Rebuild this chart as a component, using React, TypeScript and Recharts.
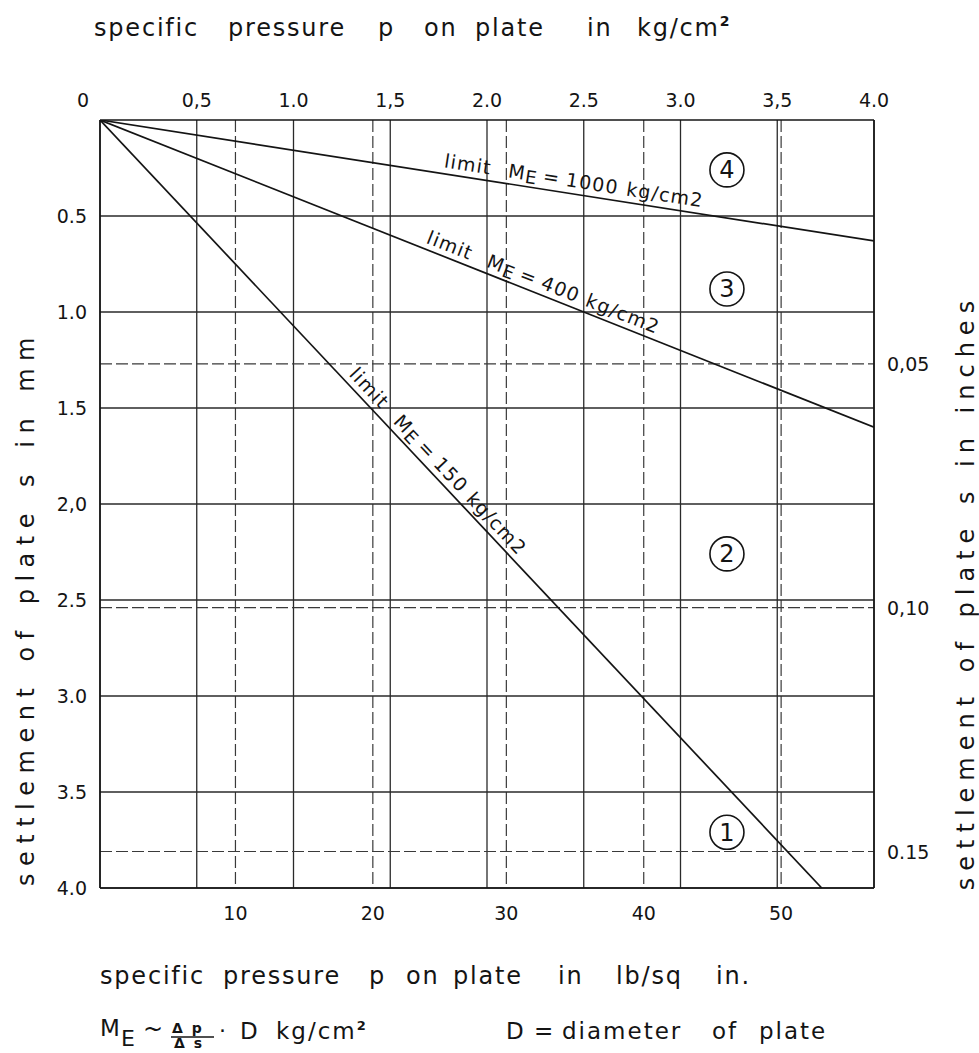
import React from 'react'
import { LineChart, Line, XAxis, YAxis, ReferenceLine, ReferenceDot } from 'recharts'

// pressure axis (kg/cm2) on top, lb/sq in marks below
const kgTicks = [0, 0.5, 1, 1.5, 2, 2.5, 3, 3.5, 4]
const kgLabels = ['0', '0,5', '1.0', '1,5', '2.0', '2.5', '3.0', '3,5', '4.0']
const psiTicks = [0.7, 1.41, 2.1, 2.81, 3.52]
const psiLabels = ['10', '20', '30', '40', '50']

// settlement axis (mm) on the left, inches on the right
const mmTicks = [0.5, 1, 1.5, 2, 2.5, 3, 3.5, 4]
const mmLabels = ['0.5', '1.0', '1.5', '2,0', '2.5', '3.0', '3.5', '4.0']
const inchTicks = [1.27, 2.54, 3.81]
const inchLabels = ['0,05', '0,10', '0.15']

// limit lines
const limit1000 = [{ p: 0, s: 0 }, { p: 4, s: 0.63 }]
const limit400 = [{ p: 0, s: 0 }, { p: 4, s: 1.6 }]
const limit150 = [{ p: 0, s: 0 }, { p: 3.73, s: 4 }]

// circled zone numbers
const zoneNames = ['4', '3', '2', '1']
const zoneS = [0.26, 0.88, 2.26, 3.71]
const zoneP = 3.24

const lineNotes = [
  { me: '1000', p: 1.77, s: 0.277, angle: 8.8 },
  { me: '400', p: 1.67, s: 0.668, angle: 21.6 },
  { me: '150', p: 1.26, s: 1.35, angle: 46.8 },
]

const INK = '#141414'
const FONT = '"DejaVu Sans", Verdana, sans-serif'

const TopTick = (props: any) => {
  const { x, y, payload } = props
  const i = kgTicks.indexOf(payload.value)
  return (
    <text x={payload.value === 0 ? x - 17 : x} y={y - 13} textAnchor="middle" fontSize={19} fontFamily={FONT} fill={INK}>
      {kgLabels[i]}
    </text>
  )
}

const BottomTick = (props: any) => {
  const { x, y, payload } = props
  const i = psiTicks.indexOf(payload.value)
  return (
    <text x={x} y={y + 32} textAnchor="middle" fontSize={19} fontFamily={FONT} fill={INK}>
      {psiLabels[i]}
    </text>
  )
}

const LeftTick = (props: any) => {
  const { x, y, payload } = props
  const i = mmTicks.indexOf(payload.value)
  return (
    <text x={x - 13} y={y + 7} textAnchor="end" fontSize={19} fontFamily={FONT} fill={INK}>
      {mmLabels[i]}
    </text>
  )
}

const RightTick = (props: any) => {
  const { x, y, payload } = props
  const i = inchTicks.indexOf(payload.value)
  return (
    <text x={x + 13} y={y + 7} textAnchor="start" fontSize={19} fontFamily={FONT} fill={INK}>
      {inchLabels[i]}
    </text>
  )
}

function noteLabel(me: string, angle: number) {
  return (props: any) => {
    const vb = props.viewBox
    const x = vb.x + vb.width / 2
    const y = vb.y + vb.height / 2
    return (
      <text transform={`translate(${x},${y}) rotate(${angle})`} x={0} y={-6} fontSize={19} letterSpacing={1.2} fontFamily={FONT} fill={INK}>
        <tspan>limit</tspan>
        <tspan dx={17}>M</tspan>
        <tspan dy={3} fontSize={18}>E</tspan>
        <tspan dy={-3} dx={5}>=</tspan>
        <tspan dx={6}>{me}</tspan>
        <tspan dx={8}>kg/cm2</tspan>
      </text>
    )
  }
}

const axisLine = { stroke: INK, strokeWidth: 1.6 }

export default function App() {
  return (
    <div style={{ position: 'absolute', left: 0, top: 0, width: 979, height: 1053, background: '#ffffff' }}>
      <LineChart width={979} height={1053} margin={{ top: 100, right: 45, bottom: 125, left: 40 }}>
        <XAxis xAxisId="kg" orientation="top" type="number" dataKey="p" domain={[0, 4]} ticks={kgTicks} interval={0}
          height={20} tickSize={0} tickMargin={0} tickLine={false} axisLine={axisLine} tick={(p: any) => <TopTick {...p} />} allowDataOverflow />
        <XAxis xAxisId="psi" orientation="bottom" type="number" dataKey="p" domain={[0, 4]} ticks={psiTicks} interval={0}
          height={40} tickSize={0} tickMargin={0} tickLine={false} axisLine={axisLine} tick={(p: any) => <BottomTick {...p} />} allowDataOverflow />
        <YAxis yAxisId="mm" orientation="left" type="number" domain={[0, 4]} reversed ticks={mmTicks} interval={0}
          width={60} tickSize={0} tickMargin={0} tickLine={false} axisLine={axisLine} tick={(p: any) => <LeftTick {...p} />} allowDataOverflow />
        <YAxis yAxisId="in" orientation="right" type="number" domain={[0, 4]} reversed ticks={inchTicks} interval={0}
          width={60} tickSize={0} tickMargin={0} tickLine={false} axisLine={axisLine} tick={(p: any) => <RightTick {...p} />} allowDataOverflow />

        {kgTicks.map((v) => (
          <ReferenceLine key={'kg' + v} xAxisId="kg" yAxisId="mm" x={v} stroke="#2a2a2a" strokeWidth={1.3} />
        ))}
        {psiTicks.map((v) => (
          <ReferenceLine key={'psi' + v} xAxisId="kg" yAxisId="mm" x={v} stroke="#3a3a3a" strokeWidth={1.2} strokeDasharray="12 4" />
        ))}
        {mmTicks.map((v) => (
          <ReferenceLine key={'mm' + v} xAxisId="kg" yAxisId="mm" y={v} stroke="#2a2a2a" strokeWidth={1.3} />
        ))}
        {inchTicks.map((v) => (
          <ReferenceLine key={'in' + v} xAxisId="kg" yAxisId="mm" y={v} stroke="#3a3a3a" strokeWidth={1.2} strokeDasharray="12 4" />
        ))}

        <Line xAxisId="kg" yAxisId="mm" data={limit1000} dataKey="s" stroke={INK} strokeWidth={1.7} dot={false} isAnimationActive={false} />
        <Line xAxisId="kg" yAxisId="mm" data={limit400} dataKey="s" stroke={INK} strokeWidth={1.7} dot={false} isAnimationActive={false} />
        <Line xAxisId="kg" yAxisId="mm" data={limit150} dataKey="s" stroke={INK} strokeWidth={1.7} dot={false} isAnimationActive={false} />

        {lineNotes.map((n) => (
          <ReferenceDot key={n.me} xAxisId="kg" yAxisId="mm" x={n.p} y={n.s} r={0} stroke="none" fill="none" label={noteLabel(n.me, n.angle)} />
        ))}
        {zoneNames.map((z, i) => (
          <ReferenceDot key={'z' + z} xAxisId="kg" yAxisId="mm" x={zoneP} y={zoneS[i]} r={17} fill="none" stroke={INK} strokeWidth={1.6}
            label={{ value: z, position: 'center', fontSize: 24, fill: INK, fontFamily: FONT }} />
        ))}
      </LineChart>

      <svg width={979} height={1053} style={{ position: 'absolute', left: 0, top: 0, pointerEvents: 'none' }}>
        <text y={36} fontSize={24} fontFamily={FONT} letterSpacing={1.8} fill={INK}>
          <tspan x={94}>specific</tspan>
          <tspan x={228}>pressure</tspan>
          <tspan x={378}>p</tspan>
          <tspan x={424}>on</tspan>
          <tspan x={475}>plate</tspan>
          <tspan x={587}>in</tspan>
          <tspan x={637}>kg/cm</tspan>
          <tspan dy={-10} fontSize={14} fontWeight="bold">2</tspan>
        </text>

        <text transform="rotate(-90 34 608)" x={34} y={608} textAnchor="middle" fontSize={24} fontFamily={FONT} letterSpacing={7.5} wordSpacing={4} fill={INK}>
          settlement of plate s in mm
        </text>
        <text transform="rotate(-90 974 592)" x={974} y={592} textAnchor="middle" fontSize={24} fontFamily={FONT} letterSpacing={7} wordSpacing={3} fill={INK}>
          settlement of plate s in inches
        </text>

        <text y={984} fontSize={24} fontFamily={FONT} letterSpacing={1.8} fill={INK}>
          <tspan x={100}>specific</tspan>
          <tspan x={223}>pressure</tspan>
          <tspan x={369}>p</tspan>
          <tspan x={406}>on</tspan>
          <tspan x={453}>plate</tspan>
          <tspan x={558}>in</tspan>
          <tspan x={616}>lb/sq</tspan>
          <tspan x={716}>in.</tspan>
        </text>

        <text x={100} y={1036} fontSize={23} fontFamily={FONT} fill={INK}>M</text>
        <text x={121} y={1046} fontSize={22} fontFamily={FONT} fill={INK}>E</text>
        <text x={143} y={1037} fontSize={24} fontFamily={FONT} fill={INK}>~</text>
        <text x={172} y={1033} fontSize={14} fontFamily={FONT} fontWeight="bold" letterSpacing={2} fill={INK}>Δ p</text>
        <line x1={171} x2={214} y1={1037} y2={1037} stroke={INK} strokeWidth={1.5} />
        <text x={174} y={1048} fontSize={14} fontFamily={FONT} fontWeight="bold" letterSpacing={2} fill={INK}>Δ s</text>
        <text x={219} y={1038} fontSize={22} fontFamily={FONT} fill={INK}>·</text>
        <text y={1039} fontSize={23} fontFamily={FONT} letterSpacing={2} fill={INK}>
          <tspan x={240}>D</tspan>
          <tspan x={276}>kg/cm</tspan>
          <tspan dy={-9} fontSize={13} fontWeight="bold">2</tspan>
        </text>

        <text y={1039} fontSize={23} fontFamily={FONT} letterSpacing={2} fill={INK}>
          <tspan x={506}>D</tspan>
          <tspan x={534}>=</tspan>
          <tspan x={562}>diameter</tspan>
          <tspan x={712}>of</tspan>
          <tspan x={759}>plate</tspan>
        </text>
      </svg>
    </div>
  )
}
